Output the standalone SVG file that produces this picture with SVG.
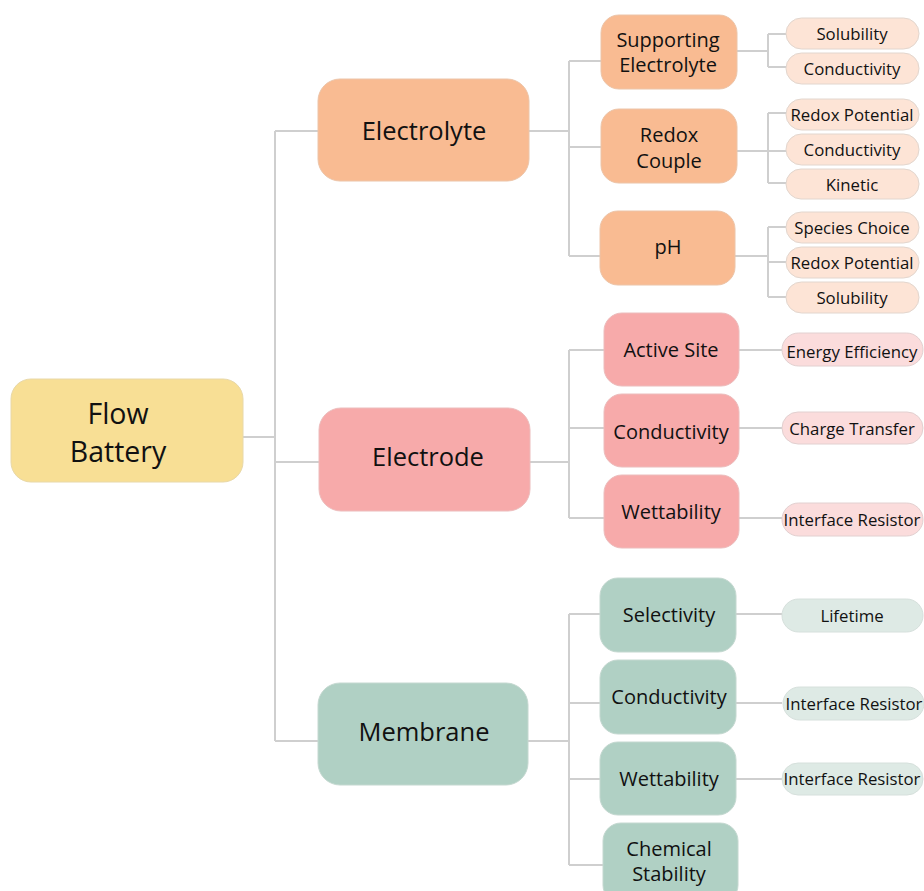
<svg xmlns="http://www.w3.org/2000/svg" width="924" height="891" viewBox="0 0 924 891">
<style>
text{font-family:"Open Sans","Noto Sans","Liberation Sans",sans-serif;fill:#111;text-anchor:middle}
.c{fill:none;stroke:#cfcfcf;stroke-width:2}
.root{fill:#F8DF95;stroke:#e8d8a8;stroke-width:1}
.ely{fill:#F9BB92;stroke:#ecc4a8;stroke-width:1}
.eld{fill:#F7AAAA;stroke:#ecbcbc;stroke-width:1}
.mem{fill:#B0D0C4;stroke:#c4d8d0;stroke-width:1}
.lely{fill:#FDE4D6;stroke:#e2d6ce;stroke-width:1}
.leld{fill:#FBDCDC;stroke:#e2d0d0;stroke-width:1}
.lmem{fill:#DEEAE5;stroke:#d6e0dc;stroke-width:1}
.t1{font-size:28.5px}
.t2{font-size:25.5px}
.t3{font-size:20px}
.t4{font-size:16.8px}
</style>
<rect width="924" height="891" fill="#fff"/>
<g id="connectors">
<path class="c" d="M243 437H275M275 131V741M275 131H318M275 462H319M275 741H318"/>
<path class="c" d="M529 131H569M569 61V256M569 61H601M569 147H601M569 256H600"/>
<path class="c" d="M530 462H569M569 350V518M569 350H604M569 428H604M569 518H604"/>
<path class="c" d="M528 741H569M569 614V865M569 614H600M569 703H600M569 779H600M569 865H603"/>
<path class="c" d="M737 51H768M768 34V67M768 34H786M768 67H786"/>
<path class="c" d="M737 151H786M768 113V183M768 113H786M768 183H786"/>
<path class="c" d="M735 256H768M768 227V297M768 227H786M768 262H786M768 297H786"/>
<path class="c" d="M739 350H782M739 428H782M739 518H782"/>
<path class="c" d="M736 614H782M736 703H782M736 779H782"/>
</g>
<g id="flow-battery"><rect class="root" x="11" y="379" width="232" height="103" rx="20"/><text class="t1" x="118" y="424">Flow</text><text class="t1" x="118" y="462">Battery</text></g>
<g id="electrolyte"><rect class="ely" x="318" y="79" width="211" height="102" rx="22"/><text class="t2" x="424" y="140">Electrolyte</text></g>
<g id="electrode"><rect class="eld" x="319" y="408" width="211" height="103" rx="22"/><text class="t2" x="428" y="466">Electrode</text></g>
<g id="membrane"><rect class="mem" x="318" y="683" width="210" height="102" rx="22"/><text class="t2" x="424" y="741">Membrane</text></g>

<g id="supporting-electrolyte"><rect class="ely" x="601" y="15" width="136" height="74" rx="18"/><text class="t3" x="668" y="47">Supporting</text><text class="t3" x="668" y="72">Electrolyte</text></g>
<g id="redox-couple"><rect class="ely" x="601" y="109" width="136" height="74" rx="18"/><text class="t3" x="669" y="142">Redox</text><text class="t3" x="669" y="168">Couple</text></g>
<g id="ph"><rect class="ely" x="600" y="211" width="135" height="74" rx="18"/><text class="t3" x="668" y="254">pH</text></g>

<g id="active-site"><rect class="eld" x="604" y="313" width="135" height="73" rx="18"/><text class="t3" x="671" y="357">Active Site</text></g>
<g id="electrode-conductivity"><rect class="eld" x="604" y="394" width="135" height="73" rx="18"/><text class="t3" x="671" y="439">Conductivity</text></g>
<g id="electrode-wettability"><rect class="eld" x="604" y="475" width="135" height="73" rx="18"/><text class="t3" x="671" y="519">Wettability</text></g>

<g id="selectivity"><rect class="mem" x="600" y="578" width="136" height="74" rx="18"/><text class="t3" x="669" y="622">Selectivity</text></g>
<g id="membrane-conductivity"><rect class="mem" x="600" y="660" width="136" height="74" rx="18"/><text class="t3" x="669" y="704">Conductivity</text></g>
<g id="membrane-wettability"><rect class="mem" x="600" y="742" width="136" height="73" rx="18"/><text class="t3" x="669" y="786">Wettability</text></g>
<g id="chemical-stability"><rect class="mem" x="603" y="823" width="135" height="80" rx="18"/><text class="t3" x="669" y="856">Chemical</text><text class="t3" x="669" y="881">Stability</text></g>

<g id="leaf-solubility-1"><rect class="lely" x="786" y="18" width="133" height="31" rx="15.5"/><text class="t4" x="852" y="40">Solubility</text></g>
<g id="leaf-conductivity-1"><rect class="lely" x="786" y="53" width="133" height="31" rx="15.5"/><text class="t4" x="852" y="75">Conductivity</text></g>
<g id="leaf-redox-potential-1"><rect class="lely" x="786" y="99" width="133" height="31" rx="15.5"/><text class="t4" x="852" y="121">Redox Potential</text></g>
<g id="leaf-conductivity-2"><rect class="lely" x="786" y="134" width="133" height="31" rx="15.5"/><text class="t4" x="852" y="156">Conductivity</text></g>
<g id="leaf-kinetic"><rect class="lely" x="786" y="169" width="133" height="30" rx="15"/><text class="t4" x="852" y="191">Kinetic</text></g>
<g id="leaf-species-choice"><rect class="lely" x="786" y="212" width="133" height="31" rx="15.5"/><text class="t4" x="852" y="234">Species Choice</text></g>
<g id="leaf-redox-potential-2"><rect class="lely" x="786" y="247" width="133" height="31" rx="15.5"/><text class="t4" x="852" y="269">Redox Potential</text></g>
<g id="leaf-solubility-2"><rect class="lely" x="786" y="282" width="133" height="31" rx="15.5"/><text class="t4" x="852" y="304">Solubility</text></g>

<g id="leaf-energy-efficiency"><rect class="leld" x="782" y="333" width="141" height="33" rx="16.5"/><text class="t4" x="852" y="358">Energy Efficiency</text></g>
<g id="leaf-charge-transfer"><rect class="leld" x="782" y="412" width="141" height="32" rx="16"/><text class="t4" x="852" y="435">Charge Transfer</text></g>
<g id="leaf-interface-resistor-1"><rect class="leld" x="782" y="503" width="141" height="33" rx="16.5"/><text class="t4" x="852" y="526">Interface Resistor</text></g>

<g id="leaf-lifetime"><rect class="lmem" x="782" y="599" width="141" height="33" rx="16.5"/><text class="t4" x="852" y="622">Lifetime</text></g>
<g id="leaf-interface-resistor-2"><rect class="lmem" x="783" y="687" width="141" height="33" rx="16.5"/><text class="t4" x="854" y="710">Interface Resistor</text></g>
<g id="leaf-interface-resistor-3"><rect class="lmem" x="782" y="763" width="141" height="32" rx="16"/><text class="t4" x="852" y="785">Interface Resistor</text></g>
</svg>
